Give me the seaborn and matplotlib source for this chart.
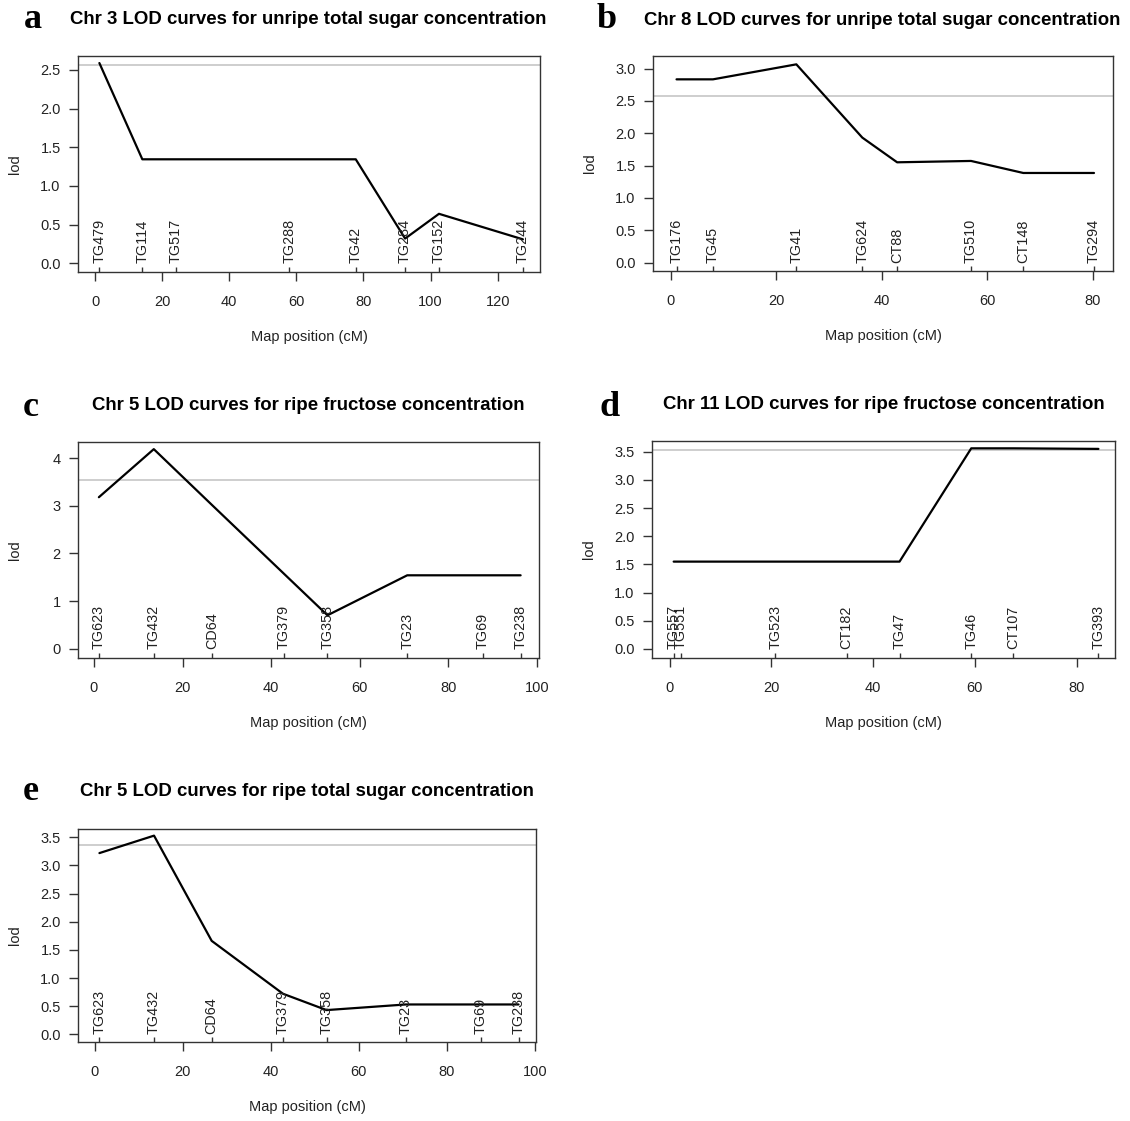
import numpy as np
import pandas as pd
import matplotlib
matplotlib.use("Agg")
import matplotlib.pyplot as plt
import matplotlib.transforms as mtransforms
from matplotlib.ticker import FixedLocator, StrMethodFormatter
import seaborn as sns

# ---------------- data ----------------
a_markers = ["TG479", "TG114", "TG517", "TG288", "TG42", "TG284", "TG152", "TG244"]
a_pos = [1.3, 14.1, 24.1, 57.9, 77.7, 92.4, 102.5, 127.5]
a_lod = [2.59, 1.345, 1.345, 1.345, 1.345, 0.32, 0.64, 0.31]
a_thr = 2.57

b_markers = ["TG176", "TG45", "TG41", "TG624", "CT88", "TG510", "CT148", "TG294"]
b_pos = [1.1, 8.0, 23.8, 36.3, 42.9, 56.9, 66.8, 80.2]
b_lod = [2.834, 2.834, 3.066, 1.933, 1.551, 1.572, 1.386, 1.386]
b_thr = 2.577

c_markers = ["TG623", "TG432", "CD64", "TG379", "TG358", "TG23", "TG69", "TG238"]
c_pos = [1.1, 13.5, 26.6, 42.8, 52.7, 70.7, 87.8, 96.3]
c_lod = [3.18, 4.19, 3.02, 1.58, 0.70, 1.54, 1.54, 1.54]
c_thr = 3.55

d_markers = ["TG557", "TG551", "TG523", "CT182", "TG47", "TG46", "CT107", "TG393"]
d_pos = [0.8, 2.2, 20.8, 34.8, 45.2, 59.3, 67.6, 84.3]
d_lod = [1.55, 1.55, 1.55, 1.55, 1.55, 3.56, 3.56, 3.55]
d_thr = 3.53

e_markers = ["TG623", "TG432", "CD64", "TG379", "TG358", "TG23", "TG69", "TG238"]
e_pos = [1.1, 13.5, 26.6, 42.8, 52.7, 70.7, 87.8, 96.3]
e_lod = [3.22, 3.53, 1.66, 0.72, 0.43, 0.53, 0.53, 0.53]
e_thr = 3.36

titles = {
    "a": "Chr 3 LOD curves for unripe total sugar concentration",
    "b": "Chr 8 LOD curves for unripe total sugar concentration",
    "c": "Chr 5 LOD curves for ripe fructose concentration",
    "d": "Chr 11 LOD curves for ripe fructose concentration",
    "e": "Chr 5 LOD curves for ripe total sugar concentration",
}
x_label = "Map position (cM)"
y_label = "lod"

# ---------------- layout (pixels) ----------------
W, H = 1130, 1121
panels = {
    "a": dict(data=(a_markers, a_pos, a_lod, a_thr), rect=(78, 56, 540, 272),
              xlim=(-5.07, 132.6), ylim=(-0.1125, 2.681),
              xt=np.arange(0, 121, 20), yt=np.arange(0, 2.51, 0.5), yfmt="{x:.1f}",
              title_xy=(308.5, 19.5), letter_xy=(33, 20)),
    "b": dict(data=(b_markers, b_pos, b_lod, b_thr), rect=(653, 56, 1113, 271),
              xlim=(-3.36, 83.8), ylim=(-0.13, 3.195),
              xt=np.arange(0, 81, 20), yt=np.arange(0, 3.01, 0.5), yfmt="{x:.1f}",
              title_xy=(882.5, 20.5), letter_xy=(607, 20)),
    "c": dict(data=(c_markers, c_pos, c_lod, c_thr), rect=(78, 442, 539, 658),
              xlim=(-3.61, 100.45), ylim=(-0.197, 4.34),
              xt=np.arange(0, 101, 20), yt=np.arange(0, 4.01, 1.0), yfmt="{x:.0f}",
              title_xy=(308, 405.5), letter_xy=(31, 408)),
    "d": dict(data=(d_markers, d_pos, d_lod, d_thr), rect=(652, 441, 1115, 658),
              xlim=(-3.46, 87.56), ylim=(-0.16, 3.69),
              xt=np.arange(0, 81, 20), yt=np.arange(0, 3.51, 0.5), yfmt="{x:.1f}",
              title_xy=(883.5, 404.5), letter_xy=(610, 408)),
    "e": dict(data=(e_markers, e_pos, e_lod, e_thr), rect=(78, 829, 536, 1042),
              xlim=(-3.77, 100.27), ylim=(-0.137, 3.648),
              xt=np.arange(0, 101, 20), yt=np.arange(0, 3.51, 0.5), yfmt="{x:.1f}",
              title_xy=(307, 792), letter_xy=(31, 792)),
}

sns.set_theme(style="ticks")
plt.rcParams["font.family"] = ["Liberation Sans", "DejaVu Sans"]
TXT = "#222222"
FRAME = "#333333"

fig = plt.figure(figsize=(W / 100, H / 100), dpi=100)
fig.patch.set_facecolor("white")

for key, p in panels.items():
    markers, pos, lod, thr = p["data"]
    l, t, r, b = p["rect"]
    ax = fig.add_axes([l / W, 1 - b / H, (r - l) / W, (b - t) / H])
    ax.set_facecolor("white")

    ax.axhline(thr, color="#c6c6c6", lw=1.2, zorder=1)
    df = pd.DataFrame({"pos": pos, "lod": lod})
    sns.lineplot(data=df, x="pos", y="lod", ax=ax, color="black", lw=1.6,
                 sort=True, estimator=None, zorder=3)

    # marker rug + names
    sns.rugplot(x=pos, ax=ax, height=0.025, color=FRAME, lw=1.0, expand_margins=False)
    for name, xpos in zip(markers, pos):
        ax.text(xpos, 0, name, rotation=90, ha="center", va="bottom",
                fontsize=10.4, color=TXT, zorder=4)

    ax.set_xlim(*p["xlim"])
    ax.set_ylim(*p["ylim"])
    ax.xaxis.set_major_locator(FixedLocator(p["xt"]))
    ax.yaxis.set_major_locator(FixedLocator(p["yt"]))
    ax.yaxis.set_major_formatter(StrMethodFormatter(p["yfmt"]))
    ax.tick_params(axis="both", direction="out", length=6.5, width=1.0,
                   color=FRAME, labelsize=10.5, labelcolor=TXT)
    ax.tick_params(axis="x", pad=10)
    ax.tick_params(axis="y", pad=6)
    for sp in ax.spines.values():
        sp.set_visible(True)
        sp.set_color(FRAME)
        sp.set_linewidth(1.0)

    axw, axh = r - l, b - t
    ax.set_xlabel(x_label, fontsize=10.5, color=TXT, va="center")
    ax.xaxis.set_label_coords(0.5, -65 / axh)
    ax.set_ylabel(y_label, fontsize=10.5, color=TXT, va="center")
    ax.yaxis.set_label_coords(-63 / axw, 0.5)

    tx, ty = p["title_xy"]
    fig.text(tx / W, 1 - ty / H, titles[key], ha="center", va="center",
             fontsize=13.4, fontweight="bold", color="black")
    lx, ly = p["letter_xy"]
    fig.text(lx / W, 1 - ly / H, key, ha="center", va="center",
             fontsize=26, fontweight="bold", color="black",
             family=["Liberation Serif", "DejaVu Serif"])

fig.savefig("out.png", dpi=100, facecolor="white")
